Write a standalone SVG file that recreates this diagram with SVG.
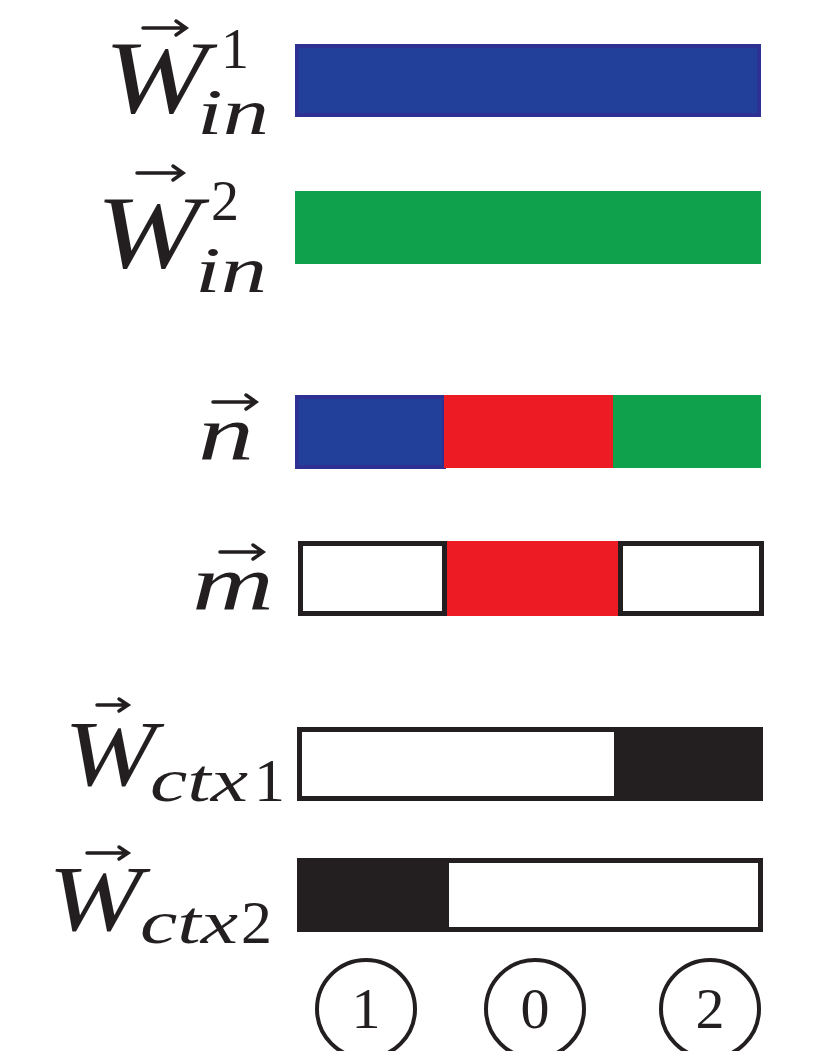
<svg xmlns="http://www.w3.org/2000/svg" width="828" height="1051" viewBox="0 0 828 1051">
<defs>
<style>
.m{font-family:'Liberation Serif','DejaVu Serif',serif;font-style:italic;fill:#231F20}
.d{font-family:'Liberation Serif','DejaVu Serif',serif;fill:#231F20}
.arr{fill:none;stroke:#231F20;stroke-width:3.5;stroke-linecap:round}
.blue{fill:#22409A;stroke:#2E3192;stroke-width:4}
.green{fill:#0FA14B}
.red{fill:#ED1C24}
.blk{fill:#231F20}
.wht{fill:#FFFFFF}
.circ{fill:none;stroke:#231F20;stroke-width:4}
</style>
</defs>
<rect width="828" height="1051" fill="#FFFFFF"/>

<g id="w-in-1">
<rect class="blue" x="297" y="46" width="462" height="69"/>
<text class="m" x="104" y="112" font-size="104" textLength="104" lengthAdjust="spacingAndGlyphs">W</text>
<path class="arr" d="M143 28 H185 M176 21 L186 28 L176 35"/>
<text class="d" x="221" y="68" font-size="56">1</text>
<text class="m" x="197" y="134" font-size="66" textLength="72" lengthAdjust="spacingAndGlyphs">in</text>
</g>

<g id="w-in-2">
<rect class="green" x="295" y="191" width="466" height="73"/>
<text class="m" x="96" y="267" font-size="104" textLength="104" lengthAdjust="spacingAndGlyphs">W</text>
<path class="arr" d="M137 173 H182 M173 166 L183 173 L173 180"/>
<text class="d" x="211" y="220" font-size="56">2</text>
<text class="m" x="195" y="292" font-size="66" textLength="72" lengthAdjust="spacingAndGlyphs">in</text>
</g>

<g id="n-vec">
<rect class="blue" x="297" y="397" width="147" height="70"/>
<rect class="red" x="444" y="395" width="169" height="73"/>
<rect class="green" x="613" y="395" width="148" height="73"/>
<text class="m" x="198" y="460" font-size="78" textLength="56" lengthAdjust="spacingAndGlyphs">n</text>
<path class="arr" d="M213 402 H255 M246 395 L256 402 L246 409"/>
</g>

<g id="m-vec">
<rect class="blk" x="298" y="541" width="466" height="75"/>
<rect class="wht" x="303" y="546" width="139" height="65"/>
<rect class="red" x="447" y="541" width="171" height="75"/>
<rect class="wht" x="623" y="546" width="136" height="65"/>
<text class="m" x="192" y="610" font-size="78" textLength="82" lengthAdjust="spacingAndGlyphs">m</text>
<path class="arr" d="M220 552 H262 M253 545 L263 552 L253 559"/>
</g>

<g id="w-ctx-1">
<rect class="blk" x="297" y="727" width="466" height="74"/>
<rect class="wht" x="302" y="732" width="312" height="64"/>
<text class="m" x="64" y="785" font-size="94" textLength="92" lengthAdjust="spacingAndGlyphs">W</text>
<path class="arr" d="M97 705 H127 M119 699 L128 705 L119 711"/>
<text class="m" x="150" y="801" font-size="62" textLength="98" lengthAdjust="spacingAndGlyphs">ctx</text>
<text class="d" x="254" y="801" font-size="62">1</text>
</g>

<g id="w-ctx-2">
<rect class="blk" x="297" y="858" width="466" height="74"/>
<rect class="wht" x="449" y="863" width="309" height="64"/>
<text class="m" x="48" y="930" font-size="94" textLength="94" lengthAdjust="spacingAndGlyphs">W</text>
<path class="arr" d="M87 853 H127 M119 847 L128 853 L119 859"/>
<text class="m" x="140" y="943" font-size="62" textLength="98" lengthAdjust="spacingAndGlyphs">ctx</text>
<text class="d" x="241" y="943" font-size="62">2</text>
</g>

<g id="idx-1">
<circle class="circ" cx="366" cy="1009" r="49"/>
<text class="d" x="366" y="1028" font-size="58" text-anchor="middle">1</text>
</g>
<g id="idx-0">
<circle class="circ" cx="535" cy="1009" r="49"/>
<text class="d" x="535" y="1028" font-size="58" text-anchor="middle">0</text>
</g>
<g id="idx-2">
<circle class="circ" cx="710" cy="1009" r="49"/>
<text class="d" x="710" y="1028" font-size="58" text-anchor="middle">2</text>
</g>

<g id="connectors"></g>
</svg>
